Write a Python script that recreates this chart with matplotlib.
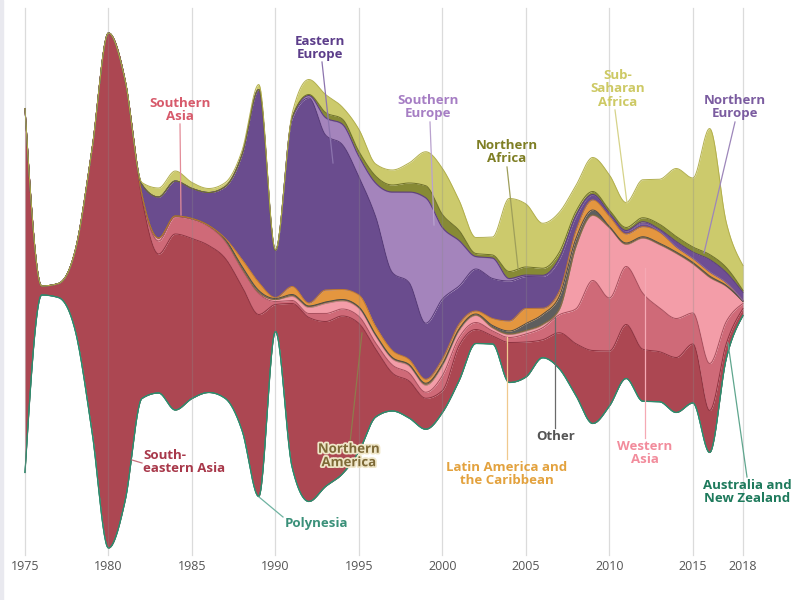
import numpy as np
import matplotlib
matplotlib.use("Agg")
import matplotlib.pyplot as plt
from matplotlib import patheffects as pe
from matplotlib.patches import Rectangle

years = list(range(1975, 2019))
tick_years = [1975, 1980, 1985, 1990, 1995, 2000, 2005, 2010, 2015, 2018]

# layer values (bottom -> top)
australia_nz = [0] * 44
polynesia = [0] * 44
se_asia = [364, 9, 14, 79, 279, 515, 420, 200, 139, 176, 160, 147, 140, 144, 182, 27,
           164, 184, 165, 158, 128, 68, 38, 37, 31, 22,
           35, 14, 8, 40, 35, 18, 36, 52, 73, 55,
           54, 52, 50, 55, 59, 42, 15, 7]
s_asia = [0, 0, 0, 0, 0, 0, 0, 3, 13, 17, 19, 19, 17, 17, 21, 3,
          3, 4, 8, 7, 7, 6, 8, 8, 6, 15,
          8, 7, 5, 5, 8, 12, 18, 35, 70, 53,
          58, 56, 44, 39, 31, 47, 22, 5]
w_asia = [0, 0, 0, 0, 0, 0, 0, 1, 3, 1, 1, 1, 1, 1, 1, 2,
          4, 6, 10, 8, 8, 7, 6, 7, 7, 10,
          7, 7, 3, 3, 3, 3, 5, 62, 65, 70,
          22, 55, 63, 65, 49, 86, 35, 2]
n_america = [0] * 16 + [1] * 11 + [0.5] * 16 + [0]
other = [0, 0, 0, 0, 0, 0, 0, 0, 0, 0, 0, 0, 1, 2, 2, 1,
         1, 0.5, 0.5, 0.5, 0.5, 0.5, 0.5, 0.5, 1, 0.5,
         0.5, 1, 2, 3, 7, 10, 13, 8, 5, 1,
         1, 1, 1, 1, 1, 1, 0.5, 0]
latin_am = [0, 0, 0, 0, 0, 0, 0, 0, 0, 0, 0, 0, 1, 7, 8, 1,
            8, 3, 12, 10, 12, 8, 7, 5, 4, 5,
            5, 3, 7, 10, 15, 6, 5, 8, 10, 10,
            9, 10, 11, 5, 4, 4, 3, 1]
e_europe = [0, 0, 0, 0, 0, 0, 0, 10, 41, 35, 30, 33, 52, 105, 193, 47,
            168, 205, 155, 145, 118, 110, 78, 77, 56, 60,
            38, 42, 40, 40, 32, 32, 32, 14, 5, 3,
            3, 3, 1, 0.5, 0.5, 0.5, 0, 0]
s_europe = [0] * 16 + [1, 2, 17, 20, 20, 33, 80, 90, 125, 71,
                       45, 12, 20, 2, 1, 0.5, 0.5, 0.5, 0, 0,
                       0, 0, 0, 0, 0, 0, 0, 0]
n_europe = [0] * 17 + [0.5] * 19 + [0.5, 2, 2, 5, 6, 12, 10, 8]
n_africa = [0] * 17 + [1, 5, 5, 5, 7, 7, 9, 12, 13,
                       10, 3, 3, 7, 8, 7, 6, 4, 3, 3,
                       3, 4, 5, 5, 5, 5, 5, 2]
ss_africa = [0, 0, 0, 0, 0, 0, 0, 2, 9, 10, 6, 4, 4, 4, 5, 1,
             4, 15, 18, 12, 22, 12, 15, 20, 34, 46,
             30, 16, 18, 73, 63, 45, 40, 26, 34, 35,
             25, 38, 45, 68, 69, 126, 45, 25]

layers = [
    ("Australia and New Zealand", australia_nz, "#2F8A6C", "#237A5E"),
    ("Polynesia", polynesia, "#3C9A80", "#3C9A80"),
    ("South-eastern Asia", se_asia, "#AC4752", "#8E3340"),
    ("Southern Asia", s_asia, "#CF6A78", "#A84E5C"),
    ("Western Asia", w_asia, "#F39DA8", "#C97A86"),
    ("Northern America", n_america, "#9A8450", "#7E6B3A"),
    ("Other", other, "#5E5E5E", "#4A4A4A"),
    ("Latin America and the Caribbean", latin_am, "#E4963F", "#C27A2C"),
    ("Eastern Europe", e_europe, "#6A4C8E", "#573A78"),
    ("Southern Europe", s_europe, "#A484BC", "#8A6AA3"),
    ("Northern Europe", n_europe, "#6F4E94", "#5A3C7C"),
    ("Northern Africa", n_africa, "#878A35", "#6E7028"),
    ("Sub-Saharan Africa", ss_africa, "#CCCA6C", "#B2AF4E"),
]

# pixel <-> data helpers (layout only)
PX = (743.0 - 25.0) / (2018 - 1975)
X0 = 1975 - 25.0 / PX
CY = 290.5


def px2x(px):
    return X0 + px / PX


def py2y(py):
    return CY - py


def monotone(x, y, n=24):
    x = np.asarray(x, float)
    y = np.asarray(y, float)
    h = np.diff(x)
    s = np.diff(y) / h
    t = np.zeros_like(y)
    for i in range(1, len(y) - 1):
        s0, s1 = s[i - 1], s[i]
        p = (s0 * h[i] + s1 * h[i - 1]) / (h[i - 1] + h[i])
        t[i] = (np.sign(s0) + np.sign(s1)) * min(abs(s0), abs(s1), 0.5 * abs(p))
    t[0] = (3 * s[0] - t[1]) / 2
    t[-1] = (3 * s[-1] - t[-2]) / 2
    xs, ys = [], []
    for i in range(len(y) - 1):
        u = np.linspace(0, 1, n, endpoint=False)
        h00 = 2 * u**3 - 3 * u**2 + 1
        h10 = u**3 - 2 * u**2 + u
        h01 = -2 * u**3 + 3 * u**2
        h11 = u**3 - u**2
        xs.append(x[i] + u * h[i])
        ys.append(h00 * y[i] + h10 * h[i] * t[i] + h01 * y[i + 1] + h11 * h[i] * t[i + 1])
    xs.append([x[-1]])
    ys.append([y[-1]])
    return np.concatenate(xs), np.concatenate(ys)


fig = plt.figure(figsize=(8, 6), dpi=100)
ax = fig.add_axes([0, 0, 1, 1])
ax.set_xlim(X0, X0 + 800 / PX)
ax.set_ylim(py2y(600), py2y(0))
ax.axis("off")
fig.patches.append(Rectangle((0, 0), 3 / 800, 1, transform=fig.transFigure,
                             color="#E9E9EF", zorder=0))

vals = np.array([l[1] for l in layers], float)
total = vals.sum(axis=0)
base = -total / 2.0
cum = np.vstack([np.zeros(len(years)), np.cumsum(vals, axis=0)])

bounds = []
for k in range(cum.shape[0]):
    xs, ys = monotone(years, base + cum[k])
    bounds.append(ys)

for i, (name, v, col, edge) in enumerate(layers):
    ax.fill_between(xs, bounds[i], bounds[i + 1], color=col, lw=0, zorder=2)
for i, (name, v, col, edge) in enumerate(layers):
    ax.plot(xs, bounds[i + 1], color=edge, lw=0.7, zorder=3)
ax.plot(xs, bounds[0], color="#2F8A6C", lw=0.9, zorder=3)

# grid lines
for yr in tick_years:
    ax.plot([yr, yr], [py2y(8), py2y(555)], color="#8A8A8A", alpha=0.3, lw=0.9, zorder=4)
    ax.text(yr, py2y(567), str(yr), ha="center", va="center", fontsize=9,
            color="#555555", family="Open Sans")

font = dict(family="Open Sans", fontweight="bold", fontsize=9.5, linespacing=1.05)

labels = [
    # text, x, y, ha, color, leader (x1, y1, x2, y2), line color
    ("Southern\nAsia", 180, 110, "center", "#D75A6B", (180, 124, 181, 215), "#E38C98"),
    ("Eastern\nEurope", 320, 48, "center", "#5C3D8A", (322, 62, 333, 163), "#8C74AE"),
    ("Southern\nEurope", 428, 107, "center", "#A67EC4", (430, 122, 434, 225), "#B9A2CE"),
    ("Northern\nAfrica", 507, 152, "center", "#7E7E24", (507, 167, 518, 268), "#9E9E5A"),
    ("Sub-\nSaharan\nAfrica", 618, 89, "center", "#CDC964", (615, 110, 627, 203), "#D6D38A"),
    ("Northern\nEurope", 735, 107, "center", "#7B5CA0", (735, 122, 704, 253), "#9D86BA"),
    ("South-\neastern Asia", 143, 462, "left", "#A8384A", (132, 460, 142, 463), "#C7707C"),
    ("Polynesia", 285, 524, "left", "#3A9079", (259, 497, 283, 517), "#6FB3A1"),
    ("Northern\nAmerica", 349, 456, "center", "#7E6A37", (350, 443, 362, 333), "#8E7B4C"),
    ("Latin America and\nthe Caribbean", 507, 474, "center", "#E3A23E", (507, 459, 507, 337), "#F0C98E"),
    ("Other", 556, 437, "center", "#555555", (555, 428, 555, 317), "#6A6A6A"),
    ("Western\nAsia", 645, 453, "center", "#F28C9C", (645, 438, 645, 268), "#F5A9B4"),
    ("Australia and\nNew Zealand", 747, 492, "center", "#1E7A5C", (747, 477, 728, 343), "#5FA68E"),
]

for text, x, y, ha, col, (x1, y1, x2, y2), lc in labels:
    ax.plot([px2x(x1), px2x(x2)], [py2y(y1), py2y(y2)], color=lc, lw=0.9, zorder=5)
    t = ax.text(px2x(x), py2y(y), text, ha=ha, va="center", color=col, zorder=6,
                multialignment=ha, **font)
    if text.startswith("Northern\nAmerica"):
        t.set_path_effects([pe.withStroke(linewidth=2.5, foreground="#EFE6C8")])

fig.savefig("out.png", dpi=100)
